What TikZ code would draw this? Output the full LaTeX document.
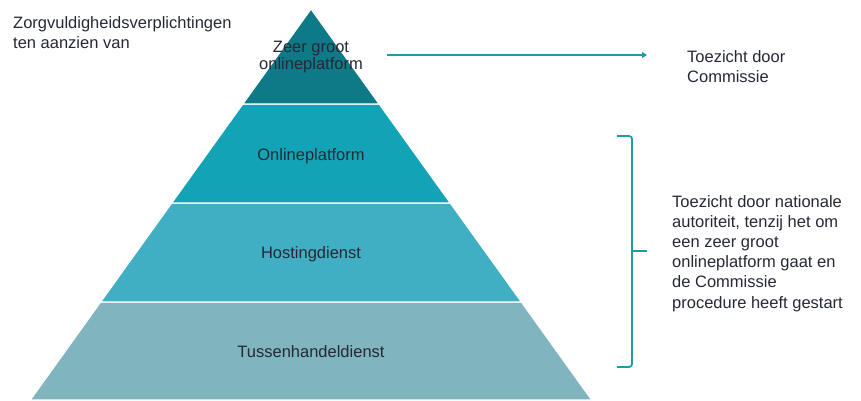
\documentclass[tikz,border=0pt]{standalone}
\usepackage{fontspec}
\setmainfont{Liberation Sans}
\usetikzlibrary{arrows.meta,positioning}
\definecolor{vlopkleur}{HTML}{0F7A87}
\definecolor{platformkleur}{HTML}{12A3B7}
\definecolor{hostingkleur}{HTML}{40AEC3}
\definecolor{tussenkleur}{HTML}{80B4BE}
\definecolor{lijnkleur}{HTML}{1E9BAA}
\definecolor{tekstkleur}{HTML}{252935}

\begin{document}
\begin{tikzpicture}
        [x=1pt, y=-1pt,
        band/.style={draw=white, line width=1.2pt},
        layer/.style={font=\fontsize{16.5}{16.5}\selectfont, text=tekstkleur, align=center},
        note/.style={font=\fontsize{16.5}{20.2}\selectfont, text=tekstkleur, align=left, anchor=north west, inner sep=0pt},
        link/.style={draw=lijnkleur, line width=1.5pt, -{Triangle[length=5pt, width=6pt]}},
        bracket/.style={draw=lijnkleur, line width=1.8pt, rounded corners=3pt}]
        \useasboundingbox (0,0) rectangle (861,400);
        \filldraw[band, fill=tussenkleur] (100.6,302) -- (521.4,302) -- (591.7,400) -- (30.3,400) -- cycle;
        \filldraw[band, fill=hostingkleur] (171.7,203) -- (450.3,203) -- (521.4,302) -- (100.6,302) -- cycle;
        \filldraw[band, fill=platformkleur] (242.8,104) -- (379.2,104) -- (450.3,203) -- (171.7,203) -- cycle;
        \filldraw[band, fill=vlopkleur] (311,9) -- (379.2,104) -- (242.8,104) -- cycle;
        \node[layer] (1) at (311,57) {Zeer groot\\onlineplatform};
        \node[layer] (2) at (311,156) {Onlineplatform};
        \node[layer] (3) at (311,254) {Hostingdienst};
        \node[layer] (4) at (311,352) {Tussenhandeldienst};
        \node[note] (5) at (13,16) {Zorgvuldigheidsverplichtingen\\ten aanzien van};
        \node[note] (6) at (687,50) {Toezicht door\\Commissie};
        \node[note] (7) at (672,195) {Toezicht door nationale\\autoriteit, tenzij het om\\een zeer groot\\onlineplatform gaat en\\de Commissie\\procedure heeft gestart};
        \coordinate (a) at (387,55);
        \draw[link, shorten >=40pt] (a) -- (a -| 6.west);
        \draw[bracket] (617,136) -| (632,367) -- (617,367);
        \draw[bracket] (632,251) -- (647,251);
    \end{tikzpicture}
\end{document}
